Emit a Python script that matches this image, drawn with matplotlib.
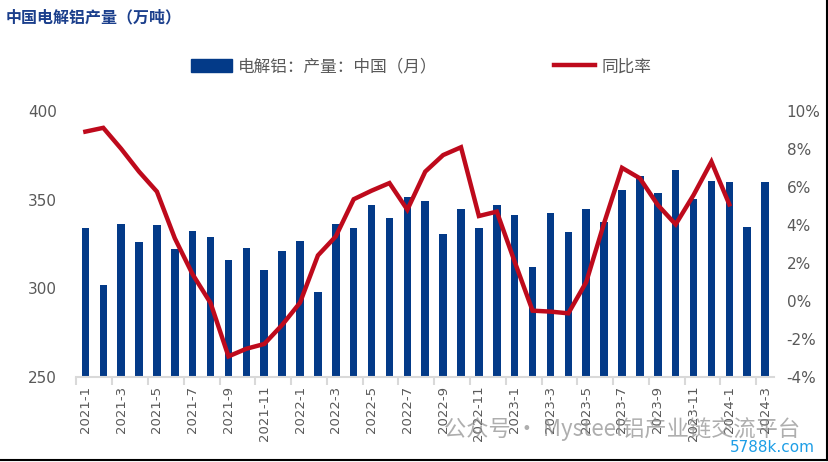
import matplotlib
matplotlib.use("Agg")
import matplotlib.pyplot as plt
from matplotlib.lines import Line2D
from matplotlib.patches import Patch
import numpy as np

plt.rcParams['font.family'] = ['Noto Sans CJK SC', 'DejaVu Sans']

# months 2021-1 .. 2024-3
months = [f"{y}-{m}" for y in (2021, 2022, 2023) for m in range(1, 13)] + ["2024-1", "2024-2", "2024-3"]

# 电解铝产量（万吨）
output = [334.2, 301.9, 336.3, 325.9, 335.5, 322.2, 332.1, 328.9, 316.0, 322.8, 310.4, 321.1,
          326.7, 298.2, 336.3, 334.2, 346.9, 339.8, 351.4, 349.0, 330.6, 344.9, 334.2, 346.9,
          341.3, 312.1, 342.4, 331.8, 344.9, 337.2, 355.4, 363.1, 353.7, 366.6, 350.3, 360.4,
          359.9, 334.6, 359.7]

# 同比率（%），to 2024-1
yoy = [8.9, 9.1, 8.0, 6.8, 5.75, 3.3, 1.4, -0.1, -2.9, -2.5, -2.25, -1.25,
       -0.08, 2.4, 3.4, 5.35, 5.8, 6.2, 4.8, 6.8, 7.67, 8.08, 4.47, 4.7,
       2.07, -0.5, -0.55, -0.64, 1.0, 4.1, 7.0, 6.45, 5.05, 4.03, 5.57, 7.32,
       5.08]

bar_color = "#033A88"
line_color = "#BE0A1C"
tick_color = "#595959"
axis_gray = "#D9D9D9"

fig = plt.figure(figsize=(8.29, 4.62), dpi=100)
ax = fig.add_axes([0.0922, 0.1833, 0.8415, 0.5771])
ax2 = ax.twinx()

x = np.arange(len(months))
ax.bar(x, output, width=0.42, color=bar_color, zorder=2)
ax.set_ylim(250, 400)
ax.set_yticks([250, 300, 350, 400])
ax.set_xlim(-0.5, len(months) - 0.5)

ax2.plot(np.arange(len(yoy)), yoy, color=line_color, lw=3.2, solid_joinstyle="miter", zorder=3)
ax2.set_ylim(-4, 10)
ax2.set_yticks(range(-4, 11, 2))
ax2.set_yticklabels([f"{v}%" for v in range(-4, 11, 2)])

for a in (ax, ax2):
    for s in ("top", "left", "right", "bottom"):
        a.spines[s].set_visible(False)

ax.spines["bottom"].set_visible(True)
ax.spines["bottom"].set_color(axis_gray)
ax.spines["bottom"].set_linewidth(1.5)

ax.set_xticks(x[::2])
ax.set_xticklabels(months[::2], rotation=90, fontsize=9.5, color=tick_color, family="DejaVu Sans")
ax.set_xticks(np.arange(-0.5, len(months), 2), minor=True)
ax.tick_params(axis="x", which="major", length=0, pad=6)
ax.tick_params(axis="x", which="minor", length=6, width=1.5, color=axis_gray)
ax.tick_params(axis="y", length=0, labelsize=11, labelcolor=tick_color, pad=14)
ax2.tick_params(axis="y", length=0, labelsize=11, labelcolor=tick_color, pad=9)
for lab in ax.get_yticklabels() + ax2.get_yticklabels():
    lab.set_family("DejaVu Sans")

# title
fig.text(0.007, 0.962, "中国电解铝产量（万吨）", fontsize=11.5, fontweight="bold",
         color="#1B3F8C", va="center", ha="left")

# legend
handles = [Patch(color=bar_color), Line2D([], [], color=line_color, lw=3.2)]
fig.legend(handles, ["电解铝：产量：中国（月）", "同比率"], loc="center left",
           bbox_to_anchor=(0.212, 0.855), ncol=2, frameon=False, fontsize=12,
           handlelength=2.45, handleheight=0.85, columnspacing=7.0, handletextpad=0.4,
           labelcolor=tick_color)

# watermark
fig.text(0.535, 0.072, "公众号 · Mysteel铝产业链交流平台", fontsize=16, color="#8C8C8C",
         alpha=0.7, va="center", ha="left", zorder=10)
fig.text(0.88, 0.032, "5788k.com", fontsize=11, color="#1E9EE6", va="center", ha="left",
         family="DejaVu Sans", zorder=10)

# outer frame bits (right and bottom)
fig.add_artist(Line2D([0, 0.997], [0.004, 0.004], color="black", lw=1.5, transform=fig.transFigure))
fig.add_artist(Line2D([0.997, 0.997], [0.004, 1], color="black", lw=1.5, transform=fig.transFigure))

fig.savefig("out.png", dpi=100)
